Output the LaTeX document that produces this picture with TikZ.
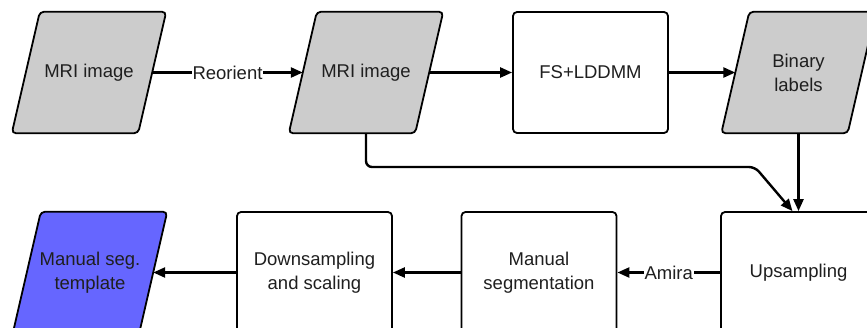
\documentclass[tikz,border=0pt]{standalone}
\usepackage{fontspec}
\setmainfont{Liberation Sans}
\usetikzlibrary{arrows.meta,calc,backgrounds}
\definecolor{gfill}{HTML}{CCCCCC}
\definecolor{bfill}{HTML}{6666FF}
\begin{document}
\begin{tikzpicture}[x=1pt,y=-1pt,
  every node/.style={font=\fontsize{18.5}{24}\selectfont, text=black!88},
  para/.style={minimum width=126pt, minimum height=121pt, inner sep=0pt, align=center},
  parashape/.style={draw, line width=1.8pt, rounded corners=4pt},
  procbox/.style={draw, line width=1.8pt, rounded corners=4pt, fill=white,
    minimum width=155pt, minimum height=121pt, inner sep=0pt, align=center},
  conn/.style={line width=2.4pt, -{Triangle[length=12pt,width=10pt]}},
  lbl/.style={fill=white, inner sep=1pt, midway}
]
\useasboundingbox (0,0) rectangle (867,327);
\clip (0,0) rectangle (867,327);

% top row
\node[para] (m1) at (89,72.5) {MRI image};
\node[para] (m2) at (366,72.5) {MRI image};
\node[procbox] (fs) at (590.5,72.5) {FS+LDDMM};
\node[para] (bin) at (798.5,72.5) {Binary\\labels};

% bottom row
\node[procbox] (up) at (798.5,272.5) {Upsampling};
\node[procbox] (ms) at (539,272.5) {Manual\\segmentation};
\node[procbox] (ds) at (314.5,272.5) {Downsampling\\and scaling};
\node[para] (tpl) at (90,272.5) {Manual seg.\\template};

\begin{scope}[on background layer]
  \foreach \n/\c in {m1/gfill, m2/gfill, bin/gfill, tpl/bfill}
    \draw[parashape, fill=\c] ($(\n.north west)+(14,0)$) -- ($(\n.north east)+(14,0)$)
      -- ($(\n.south east)+(-14,0)$) -- ($(\n.south west)+(-14,0)$) -- cycle;
\end{scope}

% connectors
\draw[conn] (m1.east) -- node[lbl] {Reorient} (m2.west);
\draw[conn] (m2.east) -- (fs.west);
\draw[conn] (fs.east) -- (bin.west);
\draw[conn] (bin.south) -- (up.north);
\coordinate (bend) at (755,167);
\draw[conn, rounded corners=6pt] (m2.south) |- (bend) -- ($(up.north)+(-6,0)$);
\draw[conn] (up.west) -- node[lbl] {Amira} (ms.east);
\draw[conn] (ms.west) -- (ds.east);
\draw[conn] (ds.west) -- (tpl.east);
\end{tikzpicture}
\end{document}
